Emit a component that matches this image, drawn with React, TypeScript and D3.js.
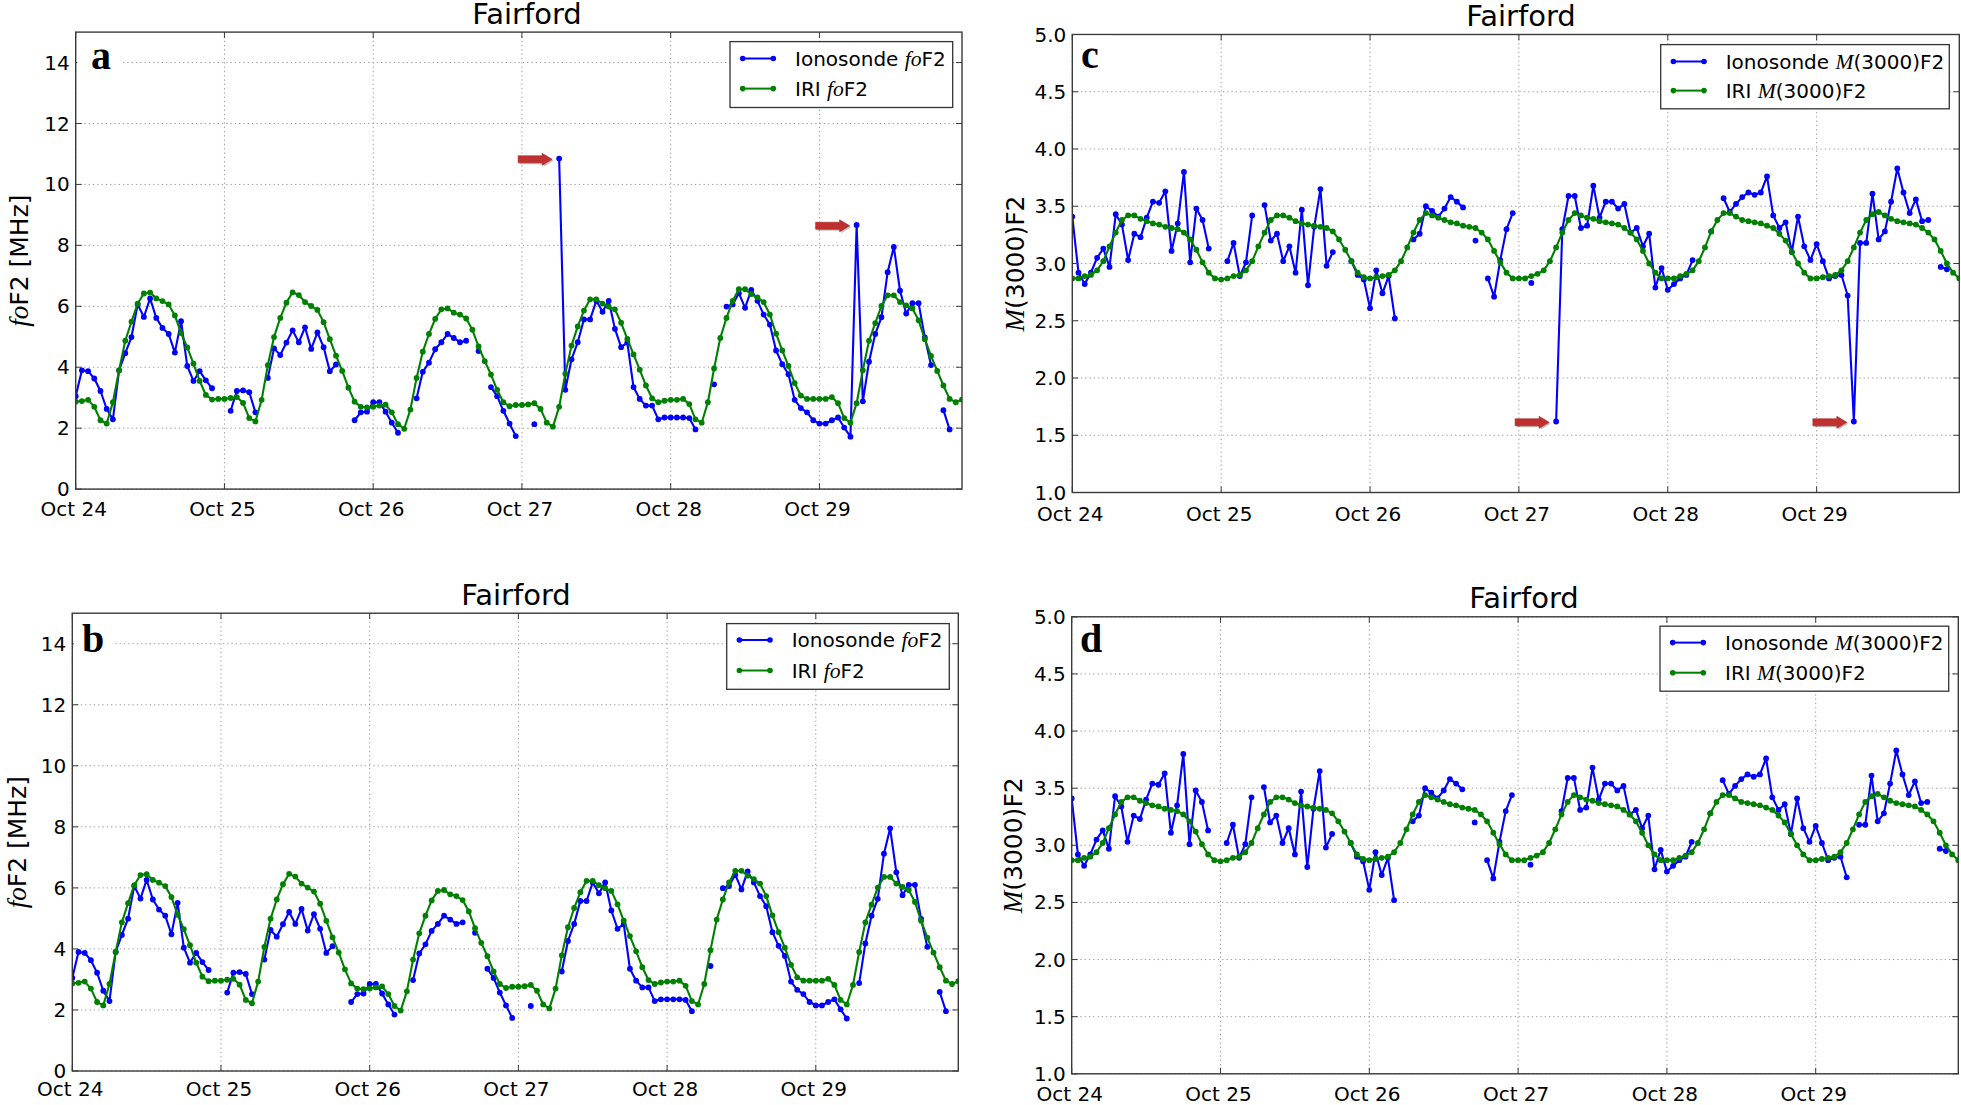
import React from 'react';
import * as d3 from 'd3';

// ---------- DATA ----------
const DAY_LABELS = ['Oct 24', 'Oct 25', 'Oct 26', 'Oct 27', 'Oct 28', 'Oct 29'];
const DAY_TICK_HOURS = [0, 24, 48, 72, 96, 120];
const HOUR_DOMAIN = [0, 143];
const FOF2_TICKS = [0, 2, 4, 6, 8, 10, 12, 14];
const FOF2_DOMAIN = [0, 15];
const M3000_TICKS = [1.0, 1.5, 2.0, 2.5, 3.0, 3.5, 4.0, 4.5, 5.0];
const M3000_DOMAIN = [1, 5];
const OUTLIER_HOURS = [78, 126];
const TITLE = 'Fairford';

// hourly values from Oct 24 00:00 (null = no measurement)
const fof2Iono: (number | null)[] = [
  3.05, 3.90, 3.87, 3.63, 3.22, 2.63, 2.29, 3.90, 4.46, 4.99, 6.06, 5.65, 6.26, 5.62, 5.29, 5.09, 4.48, 5.51, 4.04, 3.55, 3.87, 3.57, 3.31, null,
  null, 2.57, 3.22, 3.24, 3.18, 2.52, null, 3.65, 4.62, 4.40, 4.81, 5.21, 4.82, 5.31, 4.60, 5.14, 4.66, 3.87, 4.09, null, null, 2.26, 2.52, 2.54,
  2.85, 2.85, 2.54, 2.18, 1.85, null, null, 2.98, 3.85, 4.15, 4.59, 4.82, 5.09, 4.96, 4.82, 4.87, null, 4.53, null, 3.35, 3.05, 2.57, 2.15, 1.74,
  null, null, 2.13, null, null, null, 10.85, 3.26, 4.26, 4.82, 5.57, 5.57, 6.18, 5.82, 6.18, 5.26, 4.66, 4.81, 3.35, 2.96, 2.74, 2.74, 2.29, 2.35,
  2.35, 2.35, 2.35, 2.33, 1.96, null, null, 3.44, null, 5.99, 6.06, 6.43, 5.95, 6.54, 6.18, 5.73, 5.40, 4.55, 4.10, 3.77, 2.93, 2.66, 2.52, 2.26,
  2.15, 2.15, 2.26, 2.35, 2.02, 1.72, 8.67, 2.88, 4.18, 5.09, 5.64, 7.12, 7.95, 6.51, 5.76, 6.10, 6.10, 4.98, 4.07, null, 2.59, 1.96, null, null,
];
const fof2Iri: number[] = [
  2.87, 2.89, 2.93, 2.70, 2.26, 2.15, 2.85, 3.90, 4.87, 5.50, 6.09, 6.42, 6.45, 6.26, 6.17, 6.06, 5.70, 5.12, 4.65, 4.12, 3.55, 3.09, 2.94, 2.96,
  2.96, 2.99, 3.02, 2.83, 2.33, 2.22, 2.93, 4.07, 4.99, 5.62, 6.12, 6.46, 6.37, 6.14, 6.01, 5.88, 5.48, 4.92, 4.38, 3.88, 3.33, 2.87, 2.70, 2.68,
  2.70, 2.74, 2.77, 2.52, 2.13, 1.98, 2.61, 3.65, 4.51, 5.09, 5.59, 5.90, 5.93, 5.79, 5.73, 5.60, 5.23, 4.68, 4.20, 3.76, 3.26, 2.85, 2.72, 2.76,
  2.76, 2.78, 2.82, 2.63, 2.18, 2.05, 2.70, 3.79, 4.71, 5.34, 5.86, 6.23, 6.23, 6.09, 5.99, 5.90, 5.46, 4.93, 4.42, 3.92, 3.40, 2.98, 2.85, 2.90,
  2.93, 2.93, 2.96, 2.79, 2.29, 2.18, 2.85, 3.96, 4.96, 5.62, 6.18, 6.56, 6.56, 6.40, 6.29, 6.14, 5.73, 5.10, 4.55, 4.04, 3.48, 3.07, 2.96, 2.96,
  2.96, 2.96, 3.02, 2.82, 2.33, 2.18, 2.82, 3.90, 4.87, 5.45, 6.01, 6.36, 6.36, 6.14, 6.03, 5.93, 5.54, 4.92, 4.37, 3.88, 3.40, 2.96, 2.85, 2.94,
];
const m3000Iono: (number | null)[] = [
  3.41, 2.92, 2.82, 2.92, 3.05, 3.13, 2.97, 3.43, 3.34, 3.03, 3.26, 3.23, 3.40, 3.54, 3.53, 3.63, 3.11, 3.35, 3.80, 3.01, 3.48, 3.38, 3.13, null,
  null, 3.02, 3.18, 2.89, 3.01, 3.42, null, 3.51, 3.20, 3.26, 3.02, 3.15, 2.92, 3.47, 2.81, 3.32, 3.65, 2.98, 3.10, null, null, 3.02, 2.90, 2.86,
  2.61, 2.94, 2.74, 2.89, 2.52, null, null, 3.21, 3.26, 3.50, 3.46, 3.41, 3.48, 3.58, 3.54, 3.49, null, 3.20, null, 2.87, 2.71, 3.03, 3.30, 3.44,
  null, null, 2.83, null, null, null, 1.62, 3.30, 3.59, 3.59, 3.31, 3.33, 3.68, 3.40, 3.54, 3.54, 3.48, 3.52, 3.27, 3.31, 3.15, 3.26, 2.79, 2.96,
  2.77, 2.82, 2.87, 2.90, 3.03, null, null, 3.28, null, 3.57, 3.45, 3.52, 3.58, 3.62, 3.60, 3.62, 3.76, 3.42, 3.31, 3.36, 3.10, 3.41, 3.15, 3.03,
  3.17, 3.02, 2.87, 2.89, 2.90, 2.72, 1.62, 3.18, 3.18, 3.61, 3.21, 3.28, 3.54, 3.83, 3.62, 3.44, 3.56, 3.37, 3.38, null, 2.97, 2.95, null, null,
];
const m3000Iri: number[] = [
  2.87, 2.87, 2.89, 2.90, 2.94, 3.02, 3.15, 3.27, 3.38, 3.42, 3.42, 3.39, 3.37, 3.35, 3.34, 3.32, 3.31, 3.30, 3.27, 3.21, 3.12, 3.01, 2.92, 2.87,
  2.86, 2.87, 2.89, 2.90, 2.94, 3.02, 3.15, 3.27, 3.38, 3.42, 3.42, 3.40, 3.37, 3.35, 3.34, 3.33, 3.32, 3.31, 3.28, 3.21, 3.12, 3.02, 2.92, 2.88,
  2.87, 2.88, 2.89, 2.90, 2.94, 3.02, 3.14, 3.27, 3.38, 3.44, 3.42, 3.40, 3.38, 3.36, 3.35, 3.33, 3.32, 3.31, 3.27, 3.21, 3.11, 3.01, 2.92, 2.87,
  2.87, 2.87, 2.89, 2.91, 2.94, 3.02, 3.14, 3.27, 3.38, 3.44, 3.42, 3.40, 3.39, 3.37, 3.36, 3.35, 3.34, 3.31, 3.27, 3.21, 3.11, 3.00, 2.92, 2.87,
  2.87, 2.87, 2.89, 2.91, 2.94, 3.02, 3.14, 3.28, 3.38, 3.44, 3.44, 3.41, 3.38, 3.37, 3.36, 3.35, 3.33, 3.31, 3.26, 3.20, 3.10, 3.00, 2.92, 2.87,
  2.87, 2.88, 2.89, 2.90, 2.94, 3.02, 3.14, 3.27, 3.38, 3.43, 3.45, 3.42, 3.39, 3.37, 3.36, 3.35, 3.34, 3.31, 3.27, 3.21, 3.11, 3.00, 2.92, 2.87,
];

const withoutOutliers = (arr: (number | null)[]) =>
  arr.map((v, i) => (OUTLIER_HOURS.includes(i) ? null : v));

// ---------- STYLE ----------
const FONT = 'DejaVu Sans, sans-serif';
const MATH_FONT = 'Liberation Serif, DejaVu Serif, serif';
const BLUE = '#0000ff';
const GREEN = '#008000';

type Cfg = {
  id: string; left: number; top: number; right: number; bottom: number;
  titleX: number; titleY: number; letter: string; letterX: number; letterY: number;
  legend: { x: number; y: number; w: number; h: number; r1: number; r2: number };
  ylabelX: number; xlabOff: number;
};

const PANELS: Record<string, Cfg> = {
  a: { id: 'a', left: 75.7, top: 32.1, right: 962, bottom: 489.1, titleX: 527, titleY: 24, letter: 'a', letterX: 91, letterY: 69.3,
    legend: { x: 730, y: 41.6, w: 222.7, h: 65.9, r1: 16.9, r2: 47 }, ylabelX: 19, xlabOff: 26.5 },
  b: { id: 'b', left: 72.3, top: 613.2, right: 958.3, bottom: 1071, titleX: 516, titleY: 604.5, letter: 'b', letterX: 82, letterY: 652,
    legend: { x: 726.7, y: 623.6, w: 222.6, h: 65.7, r1: 16.4, r2: 46.9 }, ylabelX: 17, xlabOff: 25 },
  c: { id: 'c', left: 1072.3, top: 34.5, right: 1959.3, bottom: 492.5, titleX: 1521, titleY: 25.5, letter: 'c', letterX: 1081, letterY: 67.6,
    legend: { x: 1660.7, y: 44.6, w: 288.6, h: 64.2, r1: 16.9, r2: 46 }, ylabelX: 1015, xlabOff: 28 },
  d: { id: 'd', left: 1071.7, top: 616.8, right: 1958.3, bottom: 1073.8, titleX: 1524, titleY: 608, letter: 'd', letterX: 1080, letterY: 652,
    legend: { x: 1660, y: 626.2, w: 288.7, h: 65, r1: 16.4, r2: 46.5 }, ylabelX: 1013, xlabOff: 27.5 },
};

const Arrow = ({ tx, ty }: { tx: number; ty: number }) => {
  const p = (dx: number, dy: number) =>
    `M${tx - 34 + dx},${ty - 3.5 + dy}L${tx - 10 + dx},${ty - 3.5 + dy}L${tx - 10 + dx},${ty - 6 + dy}L${tx + dx},${ty + dy}L${tx - 10 + dx},${ty + 6 + dy}L${tx - 10 + dx},${ty + 3.5 + dy}L${tx - 34 + dx},${ty + 3.5 + dy}Z`;
  return (
    <g>
      <path d={p(1.5, 1.5)} fill="rgba(80,80,80,0.35)" />
      <path d={p(0, 0)} fill="#c0302f" stroke="#a52525" strokeWidth={0.6} />
    </g>
  );
};

type PanelProps = {
  cfg: Cfg; iono: (number | null)[]; iri: number[]; yDomain: number[]; yTicks: number[];
  fmt: (v: number) => string; kind: 'fof2' | 'm3000'; arrows: number[];
};

const MathLabel = ({ kind, prefix }: { kind: 'fof2' | 'm3000'; prefix: string }) =>
  kind === 'fof2' ? (
    <>
      {prefix}
      <tspan fontFamily={MATH_FONT} fontStyle="italic" fontSize="1.08em">fo</tspan>
      <tspan>F2</tspan>
    </>
  ) : (
    <>
      {prefix}
      <tspan fontFamily={MATH_FONT} fontStyle="italic" fontSize="1.08em">M</tspan>
      <tspan>(3000)F2</tspan>
    </>
  );

const Panel = ({ cfg, iono, iri, yDomain, yTicks, fmt, kind, arrows }: PanelProps) => {
  const x = d3.scaleLinear().domain(HOUR_DOMAIN).range([cfg.left, cfg.right]);
  const y = d3.scaleLinear().domain(yDomain).range([cfg.bottom, cfg.top]);
  const line = d3.line<number | null>()
    .defined((d) => d != null)
    .x((_, i) => x(i))
    .y((d) => y(d as number));
  const clipId = `clip-${cfg.id}`;
  const L = cfg.legend;
  const tickLen = 6;
  const midY = (cfg.top + cfg.bottom) / 2;
  return (
    <g>
      <defs>
        <clipPath id={clipId}>
          <rect x={cfg.left} y={cfg.top} width={cfg.right - cfg.left} height={cfg.bottom - cfg.top} />
        </clipPath>
      </defs>
      {/* grid */}
      <g stroke="#9a9a9a" strokeWidth={1} strokeDasharray="1.3,3">
        {DAY_TICK_HOURS.map((h) => (
          <line key={'gx' + h} x1={x(h)} x2={x(h)} y1={cfg.top} y2={cfg.bottom} />
        ))}
        {yTicks.map((t) => (
          <line key={'gy' + t} x1={cfg.left} x2={cfg.right} y1={y(t)} y2={y(t)} />
        ))}
      </g>
      {/* data */}
      <g clipPath={`url(#${clipId})`}>
        <path d={line(iono) || ''} fill="none" stroke={BLUE} strokeWidth={2.1} strokeLinejoin="round" />
        {iono.map((v, i) => (v == null ? null : <circle key={'b' + i} cx={x(i)} cy={y(v)} r={2.9} fill={BLUE} />))}
        <path d={line(iri) || ''} fill="none" stroke={GREEN} strokeWidth={2.1} strokeLinejoin="round" />
        {iri.map((v, i) => <circle key={'g' + i} cx={x(i)} cy={y(v)} r={2.9} fill={GREEN} />)}
      </g>
      {/* arrows */}
      {arrows.map((h) => (
        <Arrow key={'ar' + h} tx={x(h) - 7} ty={y(iono[h] as number) + 0.8} />
      ))}
      {/* frame */}
      <rect x={cfg.left} y={cfg.top} width={cfg.right - cfg.left} height={cfg.bottom - cfg.top} fill="none" stroke="#3a3a3a" strokeWidth={1.4} />
      {/* ticks */}
      <g stroke="#3a3a3a" strokeWidth={1}>
        {DAY_TICK_HOURS.map((h) => (
          <g key={'tx' + h}>
            <line x1={x(h)} x2={x(h)} y1={cfg.bottom} y2={cfg.bottom - tickLen} />
            <line x1={x(h)} x2={x(h)} y1={cfg.top} y2={cfg.top + tickLen} />
          </g>
        ))}
        {yTicks.map((t) => (
          <g key={'ty' + t}>
            <line x1={cfg.left} x2={cfg.left + tickLen} y1={y(t)} y2={y(t)} />
            <line x1={cfg.right} x2={cfg.right - tickLen} y1={y(t)} y2={y(t)} />
          </g>
        ))}
      </g>
      {/* tick labels */}
      <g fontFamily={FONT} fontSize={20} fill="#000">
        {DAY_TICK_HOURS.map((h, i) => (
          <text key={'lx' + h} x={x(h) - 2} y={cfg.bottom + cfg.xlabOff} textAnchor="middle">{DAY_LABELS[i]}</text>
        ))}
        {yTicks.map((t) => (
          <text key={'ly' + t} x={cfg.left - 6} y={y(t)} textAnchor="end" dominantBaseline="central">{fmt(t)}</text>
        ))}
      </g>
      {/* y label */}
      <text transform={`translate(${cfg.ylabelX},${midY}) rotate(-90)`} textAnchor="middle" dominantBaseline="central"
        fontFamily={FONT} fontSize={25}>
        {kind === 'fof2' ? (
          <>
            <tspan fontFamily={MATH_FONT} fontStyle="italic" fontSize="1.08em">fo</tspan>
            <tspan>F2 [MHz]</tspan>
          </>
        ) : (
          <>
            <tspan fontFamily={MATH_FONT} fontStyle="italic" fontSize="1.08em">M</tspan>
            <tspan>(3000)F2</tspan>
          </>
        )}
      </text>
      {/* title */}
      <text x={cfg.titleX} y={cfg.titleY} textAnchor="middle" fontFamily={FONT} fontSize={29}>{TITLE}</text>
      {/* panel letter */}
      <rect x={cfg.left + 1.5} y={cfg.letterY - 32} width={cfg.letterX - cfg.left + 30} height={42} fill="#fff" />
      <text x={cfg.letterX} y={cfg.letterY} fontFamily="Liberation Serif, DejaVu Serif, serif" fontWeight="bold" fontSize={40}>{cfg.letter}</text>
      {/* legend */}
      <g>
        <rect x={L.x} y={L.y} width={L.w} height={L.h} fill="#fff" stroke="#333" strokeWidth={1.3} />
        {[{ c: BLUE, p: 'Ionosonde ', r: L.r1 }, { c: GREEN, p: 'IRI ', r: L.r2 }].map((it, k) => {
          const ry = L.y + it.r;
          return (
            <g key={'lg' + k}>
              <line x1={L.x + 12.7} x2={L.x + 43.3} y1={ry} y2={ry} stroke={it.c} strokeWidth={2} />
              <circle cx={L.x + 12.7} cy={ry} r={2.8} fill={it.c} />
              <circle cx={L.x + 43.3} cy={ry} r={2.8} fill={it.c} />
              <text x={L.x + 65} y={ry + 7} fontFamily={FONT} fontSize={20}>
                <MathLabel kind={kind} prefix={it.p} />
              </text>
            </g>
          );
        })}
      </g>
    </g>
  );
};

export default function App() {
  const fmt1 = (v: number) => v.toFixed(1);
  const fmt0 = (v: number) => String(v);
  return (
    <svg width={1961} height={1105} style={{ position: 'absolute', left: 0, top: 0, background: '#fff' }}>
      <rect x={0} y={0} width={1961} height={1105} fill="#fff" />
      <Panel cfg={PANELS.a} iono={fof2Iono} iri={fof2Iri} yDomain={FOF2_DOMAIN} yTicks={FOF2_TICKS} fmt={fmt0} kind="fof2" arrows={OUTLIER_HOURS} />
      <Panel cfg={PANELS.b} iono={withoutOutliers(fof2Iono)} iri={fof2Iri} yDomain={FOF2_DOMAIN} yTicks={FOF2_TICKS} fmt={fmt0} kind="fof2" arrows={[]} />
      <Panel cfg={PANELS.c} iono={m3000Iono} iri={m3000Iri} yDomain={M3000_DOMAIN} yTicks={M3000_TICKS} fmt={fmt1} kind="m3000" arrows={OUTLIER_HOURS} />
      <Panel cfg={PANELS.d} iono={withoutOutliers(m3000Iono)} iri={m3000Iri} yDomain={M3000_DOMAIN} yTicks={M3000_TICKS} fmt={fmt1} kind="m3000" arrows={[]} />
    </svg>
  );
}
